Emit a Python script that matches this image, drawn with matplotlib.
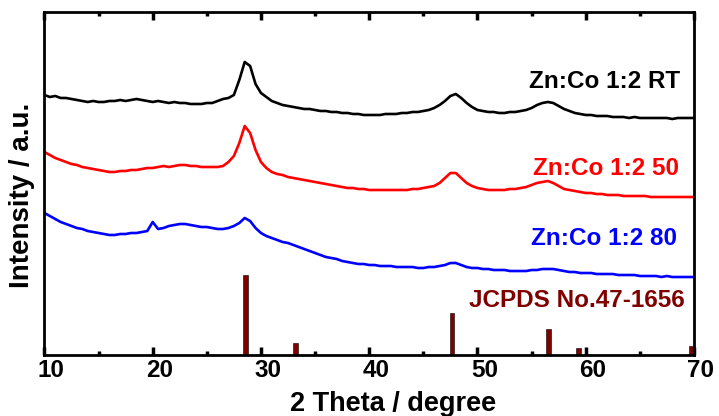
import matplotlib
matplotlib.use("Agg")
import matplotlib.pyplot as plt
import matplotlib.transforms as mtransforms
import numpy as np
from matplotlib.ticker import MultipleLocator

plt.rcParams.update({
    "font.family": ["Liberation Sans", "DejaVu Sans"],
    "font.weight": "bold",
    "axes.linewidth": 2.0,
})

# 2 theta grid (degree)
two_theta = np.arange(10, 70.01, 0.5)

# intensities (a.u.)
rt = [260, 258, 259, 257, 257, 256, 255, 254, 253, 254,
      253, 253, 254, 254, 255, 254, 255, 256, 255, 254,
      253, 254, 253, 252, 253, 252, 252, 251, 251, 251,
      252, 252, 254, 256, 257, 260, 275, 293, 289, 271,
      262, 258, 254, 252, 250, 249, 248, 247, 246, 246,
      245, 244, 244, 243, 243, 242, 242, 241, 241, 240,
      240, 240, 240, 241, 241, 241, 242, 242, 243, 243,
      244, 245, 247, 250, 254, 259, 261, 257, 252, 248,
      245, 244, 243, 243, 242, 242, 243, 243, 244, 245,
      247, 250, 252, 253, 252, 249, 246, 244, 242, 241,
      240, 240, 239, 239, 239, 238, 238, 238, 237, 238,
      237, 237, 237, 237, 237, 237, 236, 237, 237, 237,
      237]
t50 = [203, 200, 197, 195, 193, 191, 190, 188, 187, 186,
       185, 184, 183, 183, 184, 184, 185, 185, 186, 187,
       187, 188, 189, 188, 189, 190, 190, 189, 189, 188,
       188, 188, 188, 189, 193, 199, 212, 229, 222, 205,
       193, 187, 183, 181, 180, 178, 177, 176, 175, 174,
       173, 172, 171, 170, 169, 168, 167, 167, 166, 166,
       165, 165, 165, 165, 165, 165, 165, 165, 166, 166,
       167, 168, 169, 172, 177, 182, 182, 177, 172, 169,
       167, 166, 165, 165, 165, 165, 166, 166, 167, 168,
       170, 172, 173, 174, 172, 169, 166, 165, 164, 163,
       162, 162, 161, 161, 160, 160, 160, 159, 159, 159,
       159, 159, 158, 158, 158, 158, 158, 158, 158, 158,
       158]
t80 = [142, 139, 136, 133, 131, 129, 127, 126, 124, 123,
       122, 121, 120, 120, 121, 121, 122, 122, 123, 124,
       133, 126, 127, 129, 130, 131, 131, 130, 129, 128,
       128, 127, 126, 126, 127, 129, 132, 137, 134, 127,
       122, 119, 117, 115, 113, 112, 110, 108, 106, 104,
       102, 100, 98, 97, 96, 94, 93, 92, 91, 91,
       90, 90, 89, 89, 89, 88, 88, 88, 88, 87,
       87, 88, 88, 89, 90, 92, 92, 90, 88, 87,
       87, 86, 86, 85, 85, 85, 84, 84, 84, 84,
       85, 85, 86, 86, 86, 85, 84, 83, 83, 82,
       82, 82, 81, 81, 81, 81, 80, 80, 80, 80,
       79, 79, 79, 79, 78, 79, 78, 78, 78, 78,
       78]

# JCPDS No.47-1656 reference lines
ref_pos = [28.6, 33.2, 47.65, 56.6, 59.35, 69.8]
ref_int = [80, 12, 42, 26, 7, 9]

labels = ["Zn:Co 1:2 RT", "Zn:Co 1:2 50", "Zn:Co 1:2 80", "JCPDS No.47-1656"]
colors = ["black", "red", "blue", "#800000"]

fig = plt.figure(figsize=(7.19, 4.16), dpi=100)
ax = fig.add_axes([0.0618, 0.1466, 0.9034, 0.8246])

for y, c in zip([rt, t50, t80], colors[:3]):
    ax.plot(two_theta, y, color=c, lw=1.9)

ax.bar(ref_pos, ref_int, width=0.45, color=colors[3], edgecolor="black", linewidth=0.4)

# sample labels (baseline sits at the bottom of the capitals)
ax.text(68.7, 267, labels[0], color=colors[0], ha="right", va="baseline", fontsize=17.5, fontweight="bold")
ax.text(68.6, 180, labels[1], color=colors[1], ha="right", va="baseline", fontsize=17.5, fontweight="bold")
ax.text(68.4, 110, labels[2], color=colors[2], ha="right", va="baseline", fontsize=17.5, fontweight="bold")
ax.text(69.15, 48, labels[3], color=colors[3], ha="right", va="baseline", fontsize=17.5, fontweight="bold")

ax.set_xlim(10, 70)
ax.set_ylim(0, 343)
ax.xaxis.set_major_locator(MultipleLocator(10))
ax.xaxis.set_minor_locator(MultipleLocator(5))
ax.set_yticks([])
ax.tick_params(axis="x", which="major", direction="in", length=6, width=2.5,
               top=True, labelsize=17.5, pad=3)
ax.tick_params(axis="x", which="minor", direction="in", length=3, width=2.5, top=True)

# tick labels sit a little right of their ticks in the original
shift = mtransforms.ScaledTranslation(7 / 100, 0, fig.dpi_scale_trans)
for lab in ax.get_xticklabels():
    lab.set_fontweight("bold")
    lab.set_transform(lab.get_transform() + shift)

ax.set_xlabel("2 Theta / degree", fontsize=19.5, fontweight="bold", va="top")
ax.xaxis.set_label_coords(0.536, -0.105)
ax.set_ylabel("Intensity / a.u.", fontsize=20, fontweight="bold", va="center")
ax.yaxis.set_label_coords(-0.034, 0.466)

fig.savefig("out.png", dpi=100)
